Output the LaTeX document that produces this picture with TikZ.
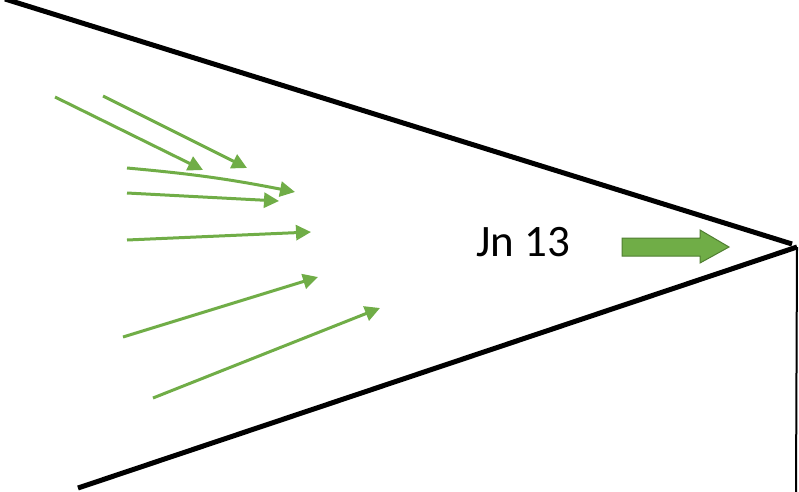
\documentclass[tikz,border=0pt]{standalone}
\usepackage{fontspec}
\setmainfont{Carlito}
\usetikzlibrary{arrows.meta}
\definecolor{ogreen}{HTML}{70AD47}
\definecolor{dgreen}{HTML}{507E32}
\tikzset{
  road/.style={line width=5pt, black},
  edge/.style={line width=2pt, black},
  flow/.style={line width=3pt, ogreen, -{Triangle[length=15pt,width=15pt]}, shorten >=0pt},
}
\begin{document}
\begin{tikzpicture}[x=1pt,y=-1pt]
\useasboundingbox (0,0) rectangle (799,491);
% roads
\coordinate (tl) at (5,-1);
\coordinate (apexT) at (792,244);
\coordinate (bl) at (78,488);
\coordinate (apexB) at (797,247);
\coordinate (vb) at (796,492);
\draw[road] (tl) -- (apexT);
\draw[road] (bl) -- (apexB);
\draw[edge] (apexB) -- (vb);
% flow arrows
\coordinate (s1) at (55,97);  \coordinate (e1) at (203,170);
\coordinate (s2) at (103,96); \coordinate (e2) at (247,168);
\coordinate (s3) at (127,168); \coordinate (e3) at (295,192);
\coordinate (s4) at (127,193); \coordinate (e4) at (279,201);
\coordinate (s5) at (127,240); \coordinate (e5) at (311,232);
\coordinate (s6) at (123,337); \coordinate (e6) at (318,277);
\coordinate (s7) at (153,398); \coordinate (e7) at (380,308);
\draw[flow] (s1) -- (e1);
\draw[flow] (s2) -- (e2);
\draw[flow] (s3) to[bend left=3] (e3);
\draw[flow] (s4) -- (e4);
\draw[flow] (s5) -- (e5);
\draw[flow] (s6) -- (e6);
\draw[flow] (s7) -- (e7);
% label
\node[anchor=base, inner sep=0pt, font=\fontsize{45}{52}\selectfont] (jn) at (523,256) {Jn 13};
% big arrow
\draw[fill=ogreen, draw=dgreen, line width=1pt]
  (622,238) -- (700,238) -- (700,230) -- (729,247) -- (700,263) -- (700,256) -- (622,256) -- cycle;
\end{tikzpicture}
\end{document}
